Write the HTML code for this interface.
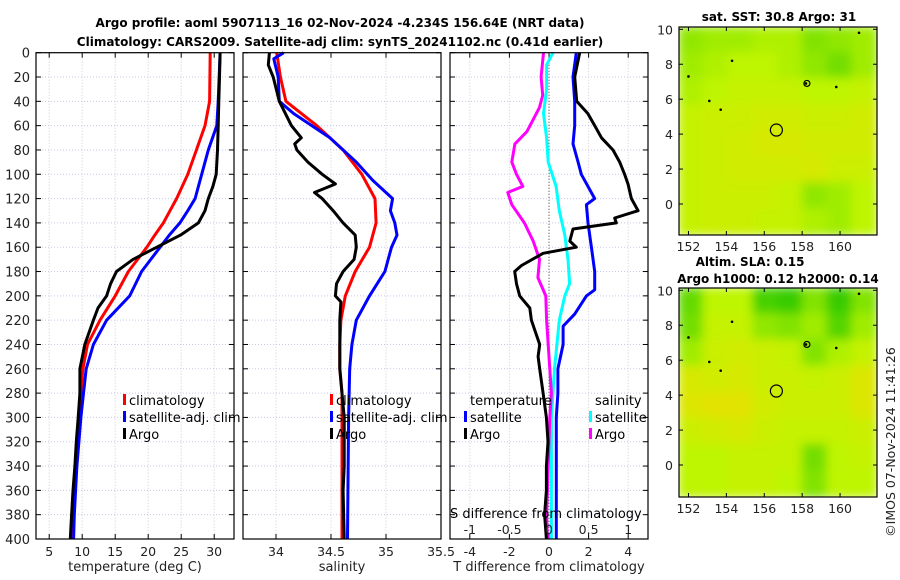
<!DOCTYPE html>
<html><head><meta charset="utf-8"><style>
html,body{margin:0;padding:0;background:#fff;}
svg{display:block;font-family:"DejaVu Sans","Liberation Sans",sans-serif;}
</style></head><body>
<svg id="fig" width="900" height="580" viewBox="0 0 900 580" xmlns="http://www.w3.org/2000/svg">
<text x="340" y="27" text-anchor="middle" font-size="12" font-weight="bold">Argo profile: aoml 5907113_16 02-Nov-2024 -4.234S 156.64E (NRT data)</text>
<text x="340" y="46" text-anchor="middle" font-size="12" font-weight="bold">Climatology: CARS2009. Satellite-adj clim: synTS_20241102.nc (0.41d earlier)</text>
<g id="plots"></g>
</svg>
<script>
// ---- data (depth in m) ----
const depthT=[0,40,60,80,100,120,130,140,150,160,170,180,200,220,240,260,280,300,320,340,360,380,400];
const tempClim=[29.4,29.3,28.6,27.3,26,24.3,23.3,22.3,21,19.8,18.4,17,15,12.7,10.8,10.1,9.8,9.6,9.3,9.0,8.8,8.5,8.3];
const tempSat=[30.9,30.6,30.4,29.1,28.1,27.1,26,24.8,23.2,21.8,20.4,19,17.2,13.7,11.7,10.6,10.2,9.8,9.5,9.2,9.0,8.8,8.7];
const depthA=[0,20,40,60,80,100,110,120,130,140,150,160,170,180,190,200,210,220,240,260,280,300,320,340,360,380,400];
const tempArgo=[30.9,30.8,30.7,30.6,30.5,30.3,29.8,29.1,28.6,27.6,24.9,21.3,17.7,15.2,14.3,13.7,12.4,11.7,10.4,9.65,9.65,9.4,9.1,8.9,8.6,8.4,8.2];
const depthS=[0,20,40,60,80,100,120,140,160,180,200,220,240,260,280,300,340,400];
const salClim=[34.006,34.04,34.09,34.37,34.61,34.78,34.9,34.91,34.85,34.72,34.63,34.59,34.58,34.58,34.6,34.6,34.6,34.6];
const depthSS=[0,5,20,40,50,70,90,105,120,130,140,150,160,180,200,220,240,260,300,400];
const salSat=[34.07,33.98,34.02,34.03,34.16,34.49,34.73,34.88,35.06,35.04,35.08,35.10,35.05,34.99,34.85,34.73,34.69,34.67,34.66,34.65];
const depthSA=[0,10,20,40,60,70,75,80,90,100,108,115,120,130,140,150,160,170,180,190,200,205,220,260,300,340,360,400];
const salArgo=[33.94,33.93,33.975,34.03,34.14,34.23,34.17,34.19,34.29,34.42,34.54,34.35,34.42,34.52,34.61,34.72,34.73,34.71,34.61,34.55,34.54,34.59,34.58,34.58,34.62,34.62,34.61,34.62];
const depthD=[0,20,40,50,60,70,80,90,100,108,120,130,136,140,145,155,160,165,175,180,190,200,210,220,240,250,260,280,300,320,340,360,380,400];
const tdiffArgo=[1.55,1.3,1.4,1.96,2.31,2.65,3.23,3.57,3.82,3.99,4.16,4.5,3.32,3.4,1.21,1.05,1.38,-0.3,-1.39,-1.73,-1.64,-1.48,-0.97,-0.89,-0.47,-0.55,-0.47,-0.3,-0.13,-0.05,-0.13,-0.13,-0.22,-0.13];
const depthB=[0,20,40,60,75,90,100,120,125,140,160,180,195,200,215,225,240,260,280,300,400];
const tdiffSat=[1.38,1.21,1.3,1.3,1.21,1.47,1.63,2.31,1.89,1.97,2.14,2.31,2.31,1.89,1.3,0.71,0.71,0.45,0.45,0.37,0.37];
const depthM=[0,20,35,45,55,65,75,90,100,110,115,125,140,155,170,185,200,220,260,280,300,340,380,400];
const sdiffArgo=[-0.07,-0.1,-0.08,-0.12,-0.2,-0.28,-0.43,-0.47,-0.41,-0.33,-0.52,-0.47,-0.31,-0.2,-0.12,-0.14,-0.04,-0.03,0.01,0.03,0.01,-0.01,-0.03,-0.02];
const depthC=[0,10,30,50,70,90,110,130,150,170,190,200,220,240,260,280,300,400];
const sdiffSat=[0.05,-0.03,-0.03,-0.07,-0.03,-0.01,0.09,0.13,0.2,0.24,0.26,0.2,0.13,0.1,0.07,0.05,0.03,0.03];
const depthTicks=[0,20,40,60,80,100,120,140,160,180,200,220,240,260,280,300,320,340,360,380,400];
const tempTicks=[5,10,15,20,25,30];
const salTicks=[34,34.5,35,35.5];
const salTickLabels=["34","34.5","35","35.5"];
const tdTicks=[-4,-2,0,2,4];
const sdTicks=[-1,-0.5,0,0.5,1];
const sdTickLabels=["-1","-0.5","0","0.5","1"];
// map data: 8x8 grids, rows top(north)->bottom, 0=green 0.5=yellow-green 1=yellow-orange
const sstGrid=[
[0.35,0.4,0.4,0.45,0.45,0.3,0.35,0.4],
[0.4,0.45,0.5,0.5,0.45,0.35,0.25,0.4],
[0.45,0.5,0.55,0.55,0.55,0.5,0.5,0.55],
[0.55,0.6,0.6,0.65,0.65,0.6,0.6,0.65],
[0.55,0.6,0.65,0.7,0.7,0.65,0.65,0.65],
[0.55,0.6,0.65,0.65,0.65,0.7,0.6,0.6],
[0.55,0.6,0.6,0.6,0.55,0.35,0.4,0.5],
[0.55,0.6,0.6,0.55,0.55,0.45,0.4,0.5]];
const slaGrid=[
[0.2,0.5,0.5,0.1,0.05,0.3,0.05,0.3],
[0.25,0.55,0.55,0.35,0.3,0.4,0.15,0.4],
[0.4,0.6,0.65,0.6,0.55,0.3,0.45,0.55],
[0.7,0.65,0.7,0.6,0.6,0.55,0.6,0.75],
[0.75,0.8,0.8,0.65,0.6,0.6,0.6,0.75],
[0.6,0.65,0.7,0.6,0.55,0.55,0.55,0.6],
[0.5,0.5,0.55,0.55,0.55,0.25,0.5,0.55],
[0.5,0.5,0.55,0.55,0.5,0.3,0.5,0.5]];
const lonTicks=[152,154,156,158,160];
const latTicks=[0,2,4,6,8,10];
const floatLon=156.64, floatLat=4.234;
const islands=[[158.2,6.9],[152.0,7.3],[154.3,8.2],[153.7,5.4],[161.0,9.8],[153.1,5.9],[159.8,6.7]];

const NS="http://www.w3.org/2000/svg";
const root=document.getElementById('plots');
function mk(tag,attrs,parent,txt){const e=document.createElementNS(NS,tag);for(const k in attrs)e.setAttribute(k,attrs[k]);if(txt!==undefined)e.textContent=txt;(parent||root).appendChild(e);return e;}
const Y0=52.7,Y1=539;
const yD=d=>Y0+(d/400)*(Y1-Y0);

function panel(name,x0,x1,dmin,dmax,xticks,xlabels,showY,xtitle){
  const g=mk('g',{});
  
  
  const sx=v=>x0+(v-dmin)/(dmax-dmin)*(x1-x0);
  xticks.forEach(t=>{const l=mk('line',{x1:sx(t),x2:sx(t),y1:Y0,y2:Y1,stroke:'#d9c8d8','stroke-width':1,'stroke-dasharray':'1,2'},g);});
  depthTicks.forEach(d=>{const l=mk('line',{x1:x0,x2:x1,y1:yD(d),y2:yD(d),stroke:'#c4c8ea','stroke-width':1,'stroke-dasharray':'1,2'},g);});
  depthTicks.forEach(d=>{mk('line',{x1:x0,x2:x0+5,y1:yD(d),y2:yD(d),stroke:'#000'},g);mk('line',{x1:x1-5,x2:x1,y1:yD(d),y2:yD(d),stroke:'#000'},g);
    if(showY){const t=mk('text',{x:x0-6,y:yD(d)+5,'text-anchor':'end','font-size':13,fill:'#222'},g,String(d));}});
  xticks.forEach((v,i)=>{mk('line',{x1:sx(v),x2:sx(v),y1:Y1,y2:Y1-5,stroke:'#000'},g);mk('line',{x1:sx(v),x2:sx(v),y1:Y0,y2:Y0+5,stroke:'#000'},g);
    const t=mk('text',{x:sx(v),y:556,'text-anchor':'middle','font-size':12.5,fill:'#222'},g,xlabels[i]);});
  const tt=mk('text',{x:(x0+x1)/2,y:571,'text-anchor':'middle','font-size':13,fill:'#222'},g,xtitle);
  
  return {g,sx};
}
function line(p,name,vals,depths,color){
  const pts=vals.map((v,i)=>p.sx(v).toFixed(1)+','+yD(depths[i]).toFixed(1)).join(' ');
  const e=mk('polyline',{points:pts,fill:'none',stroke:color,'stroke-width':3,'stroke-linejoin':'round'},p.g);
  
  
}
function frame(p,x0,x1){mk('rect',{x:x0,y:Y0,width:x1-x0,height:Y1-Y0,fill:'none',stroke:'#000','stroke-width':1.2},p.g);}
function legend(g,x,y,color,label,name){
  mk('rect',{x:x-2,y:y-11,width:3,height:11,fill:color},g);
  const t=mk('text',{x:x+4,y:y,'font-size':13,fill:'#000'},g,label);
  
  
}

const p1=panel('temperature-panel',36,234,3,33,tempTicks,tempTicks.map(String),true,'temperature (deg C)');
line(p1,'temp-climatology-line',tempClim,depthT,'#ff0000');
line(p1,'temp-satellite-line',tempSat,depthT,'#0000ff');
line(p1,'temp-argo-line',tempArgo,depthA,'#000000');
frame(p1,36,234);
legend(p1.g,125,405,'#ff0000','climatology','legend-climatology');
legend(p1.g,125,422,'#0000ff','satellite-adj. clim','legend-satellite');
legend(p1.g,125,439,'#000000','Argo','legend-argo');

const p2=panel('salinity-panel',243,441,33.7,35.5,salTicks,salTickLabels,false,'salinity');
line(p2,'sal-climatology-line',salClim,depthS,'#ff0000');
line(p2,'sal-satellite-line',salSat,depthSS,'#0000ff');
line(p2,'sal-argo-line',salArgo,depthSA,'#000000');
frame(p2,243,441);
legend(p2.g,332,405,'#ff0000','climatology','legend-climatology-2');
legend(p2.g,332,422,'#0000ff','satellite-adj. clim','legend-satellite-2');
legend(p2.g,332,439,'#000000','Argo','legend-argo-2');

const p3=panel('difference-panel',450,648,-5,5,tdTicks,tdTicks.map(String),false,'T difference from climatology');
mk('line',{x1:p3.sx(0),x2:p3.sx(0),y1:Y0,y2:Y1,stroke:'#444','stroke-width':1,'stroke-dasharray':'1,2'},p3.g);
const pS={g:p3.g,sx:v=>450+(v+1.25)/2.5*198};
line(p3,'tdiff-satellite-line',tdiffSat,depthB,'#0000ff');
line(pS,'sdiff-satellite-line',sdiffSat,depthC,'#00ffff');
line(pS,'sdiff-argo-line',sdiffArgo,depthM,'#ff00ff');
line(p3,'tdiff-argo-line',tdiffArgo,depthD,'#000000');
frame(p3,450,648);
{const t=mk('text',{x:470,y:405,'font-size':13},p3.g,'temperature');}
{const t=mk('text',{x:595,y:405,'font-size':13},p3.g,'salinity');}
legend(p3.g,466,422,'#0000ff','satellite','legend-t-satellite');
legend(p3.g,466,439,'#000000','Argo','legend-t-argo');
legend(p3.g,591,422,'#00ffff','satellite','legend-s-satellite');
legend(p3.g,591,439,'#ff00ff','Argo','legend-s-argo');
{const t=mk('text',{x:450,y:518,'font-size':13},p3.g,'S difference from climatology');}
sdTicks.forEach((v,i)=>{const t=mk('text',{x:pS.sx(v),y:534,'text-anchor':'middle','font-size':12.5,fill:'#222'},p3.g,sdTickLabels[i]);});

const defs=mk('defs',{});
const flt=mk('filter',{id:'blur',x:'-10%',y:'-10%',width:'120%',height:'120%'},defs);
mk('feGaussianBlur',{stdDeviation:5},flt);
function col(v){
  let r,g,b;
  if(v<0.5){const t=v/0.5;r=40+t*150;g=200+t*45;b=0;}
  else{const t=(v-0.5)/0.5;r=190+t*60;g=245-t*30;b=0;}
  return `rgb(${r|0},${g|0},${b|0})`;
}
function map(name,top,bot,grid,titles){
  const x0=679,x1=877;
  const g=mk('g',{});
  
  
  const lon0=151.5,lon1=161.95;
  const lat10=top+2.3, lat0=lat10+174.7;
  const sx=lon=>x0+(lon-lon0)/(lon1-lon0)*(x1-x0);
  const sy=lat=>lat0-(lat)*(lat0-lat10)/10;
  const cp=mk('clipPath',{id:'cp'+name},defs);
  mk('rect',{x:x0,y:top,width:x1-x0,height:bot-top},cp);
  const cg=mk('g',{'clip-path':`url(#cp${name})`},g);
  const ig=mk('g',{filter:'url(#blur)'},cg);
  const n=grid.length,m=grid[0].length,cw=(x1-x0)/m,ch=(bot-top)/n;
  grid.forEach((row,r)=>row.forEach((v,c)=>{
    const e=mk('rect',{x:x0+c*cw-1,y:top+r*ch-1,width:cw+2,height:ch+2,fill:col(v)},ig);
    
    
  }));
  islands.forEach(p=>{mk('circle',{cx:sx(p[0]),cy:sy(p[1]),r:1.3,fill:'#000'},cg);});
  mk('circle',{cx:sx(158.25),cy:sy(6.9),r:3,fill:'none',stroke:'#000','stroke-width':1.2},cg);
  const fc=mk('circle',{cx:sx(floatLon),cy:sy(floatLat),r:6,fill:'none',stroke:'#000','stroke-width':1.2},cg);
  
  
  mk('rect',{x:x0,y:top,width:x1-x0,height:bot-top,fill:'none',stroke:'#000','stroke-width':1.2},g);
  lonTicks.forEach(v=>{mk('line',{x1:sx(v),x2:sx(v),y1:bot,y2:bot-4,stroke:'#000'},g);mk('line',{x1:sx(v),x2:sx(v),y1:top,y2:top+4,stroke:'#000'},g);
    const t=mk('text',{x:sx(v),y:bot+16,'text-anchor':'middle','font-size':12.5,fill:'#222'},g,String(v));});
  latTicks.forEach(v=>{mk('line',{x1:x0,x2:x0+4,y1:sy(v),y2:sy(v),stroke:'#000'},g);mk('line',{x1:x1-4,x2:x1,y1:sy(v),y2:sy(v),stroke:'#000'},g);
    const t=mk('text',{x:x0-6,y:sy(v)+5,'text-anchor':'end','font-size':12.5,fill:'#222'},g,String(v));});
  titles.forEach(tt=>{const t=mk('text',{x:tt[0],y:tt[1],'text-anchor':'middle','font-size':12,'font-weight':'bold'},g,tt[2]);});
}
map('sst-map',27,235,sstGrid,[[779,21,'sat. SST: 30.8 Argo: 31']]);
map('sla-map',288,497,slaGrid,[[750,266,'Altim. SLA: 0.15'],[778,283,'Argo h1000: 0.12 h2000: 0.14']]);
{const t=mk('text',{x:0,y:0,'font-size':12.5,fill:'#222','text-anchor':'middle',transform:'translate(895,442) rotate(-90)'},root,'©IMOS 07-Nov-2024 11:41:26');}
</script>
</body></html>
